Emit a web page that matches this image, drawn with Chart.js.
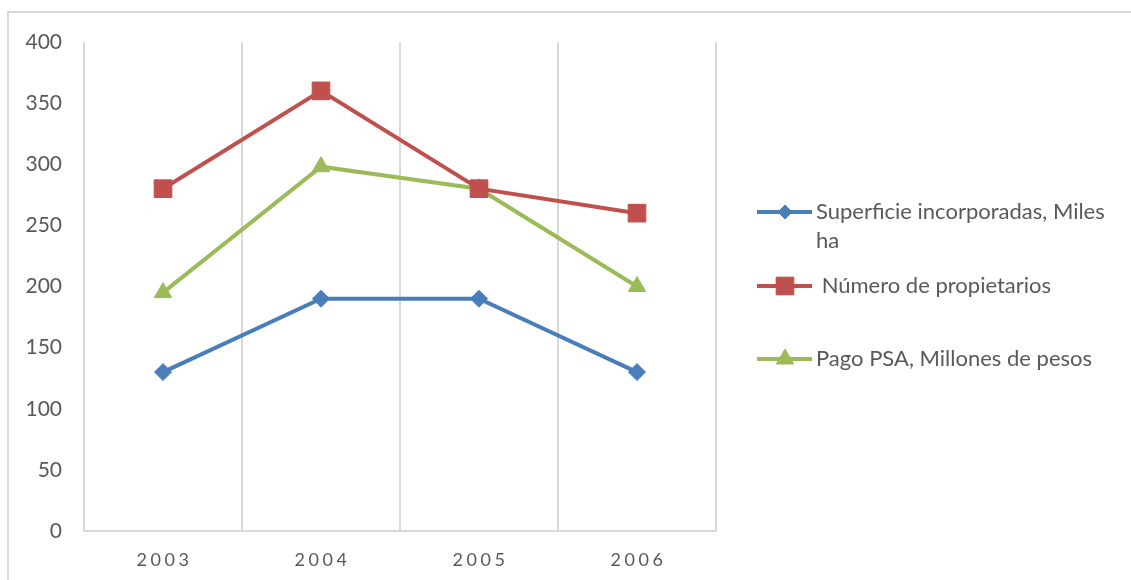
<!DOCTYPE html>
<html>
<head>
<meta charset="utf-8">
<script src="https://cdn.jsdelivr.net/npm/chart.js@4/dist/chart.umd.min.js"></script>
<style>
    html, body { margin: 0; padding: 0; background: #fff; }
</style>
</head>
<body>
<canvas id="chart1" width="1131" height="580"></canvas>
<script>
    var years = ['2003', '2004', '2005', '2006'];
    var superficie = [130, 190, 190, 130];
    var propietarios = [280, 360, 280, 260];
    var pagoPSA = [195, 298, 280, 200];
    var seriesNames = [['Superficie incorporadas, Miles', 'ha'], [' Número de propietarios'], ['Pago PSA, Millones de pesos']];

    var textColor = '#595959';
    var gridColor = '#d9d9d9';

    // frame around the whole chart (only top and left edges show)
    var framePlugin = {
        id: 'frame',
        beforeDraw: function (chart) {
            var ctx = chart.ctx;
            ctx.save();
            ctx.strokeStyle = '#d9d9d9';
            ctx.lineWidth = 2;
            ctx.beginPath();
            ctx.moveTo(8, 580);
            ctx.lineTo(8, 12);
            ctx.lineTo(1131, 12);
            ctx.stroke();
            ctx.restore();
        }
    };

    // x labels with letter spacing
    var xLabelPlugin = {
        id: 'xLabels',
        afterDraw: function (chart) {
            var ctx = chart.ctx;
            var xs = chart.scales.x;
            ctx.save();
            ctx.font = '18px Lato';
            ctx.fillStyle = textColor;
            ctx.textAlign = 'center';
            ctx.textBaseline = 'middle';
            if ('letterSpacing' in ctx) ctx.letterSpacing = '3.5px';
            chart.data.labels.forEach(function (lbl, i) {
                ctx.fillText(lbl, xs.getPixelForValue(i) + 1.5, 560);
            });
            ctx.restore();
        }
    };

    // legend on the right side
    var legendPlugin = {
        id: 'sideLegend',
        afterDraw: function (chart) {
            var ctx = chart.ctx;
            var rows = [212, 286, 359];
            chart.data.datasets.forEach(function (ds, i) {
                var y = rows[i];
                ctx.save();
                ctx.strokeStyle = ds.borderColor;
                ctx.fillStyle = ds.backgroundColor;
                ctx.lineWidth = 4;
                ctx.beginPath();
                ctx.moveTo(757, y);
                ctx.lineTo(812, y);
                ctx.stroke();
                ctx.lineWidth = 1;
                Chart.helpers.drawPoint(ctx, { pointStyle: ds.pointStyle, radius: ds.legendRadius, borderWidth: 1, rotation: 0 }, 785, y);
                ctx.font = '22px Lato';
                ctx.fillStyle = textColor;
                ctx.textAlign = 'left';
                ctx.textBaseline = 'middle';
                seriesNames[i].forEach(function (line, k) {
                    ctx.fillText(line, 816, y + k * 29);
                });
                ctx.restore();
            });
        }
    };

    new Chart(document.getElementById('chart1'), {
        type: 'line',
        data: {
            labels: years,
            datasets: [{
                label: seriesNames[0].join(' '),
                data: superficie,
                borderColor: '#4a7ebb',
                backgroundColor: '#4a7ebb',
                pointStyle: 'rectRot',
                pointRadius: 8.5,
                legendRadius: 7
            }, {
                label: seriesNames[1][0],
                data: propietarios,
                borderColor: '#c0504d',
                backgroundColor: '#c0504d',
                pointStyle: 'rect',
                pointRadius: 12.5,
                legendRadius: 12.5
            }, {
                label: seriesNames[2][0],
                data: pagoPSA,
                borderColor: '#9bbb59',
                backgroundColor: '#9bbb59',
                pointStyle: 'triangle',
                pointRadius: 10,
                legendRadius: 10
            }]
        },
        options: {
            responsive: false,
            animation: false,
            devicePixelRatio: 1,
            elements: {
                line: { borderWidth: 4, tension: 0 },
                point: { borderWidth: 1, hoverRadius: 10 }
            },
            layout: { padding: { left: 0, top: 42, right: 415, bottom: 0 } },
            plugins: {
                legend: { display: false },
                tooltip: { enabled: false }
            },
            scales: {
                x: {
                    offset: true,
                    afterFit: function (scale) { scale.height = 49; },
                    grid: { offset: true, color: gridColor, lineWidth: 2, drawTicks: false },
                    border: { display: true, color: gridColor, width: 2 },
                    ticks: { display: false }
                },
                y: {
                    min: 0,
                    max: 400,
                    afterFit: function (scale) { scale.width = 84; },
                    grid: { display: false, drawTicks: false },
                    border: { display: false },
                    ticks: {
                        stepSize: 50,
                        padding: 22,
                        color: textColor,
                        font: { family: 'Lato', size: 21 }
                    }
                }
            }
        },
        plugins: [framePlugin, xLabelPlugin, legendPlugin]
    });
</script>
</body>
</html>
